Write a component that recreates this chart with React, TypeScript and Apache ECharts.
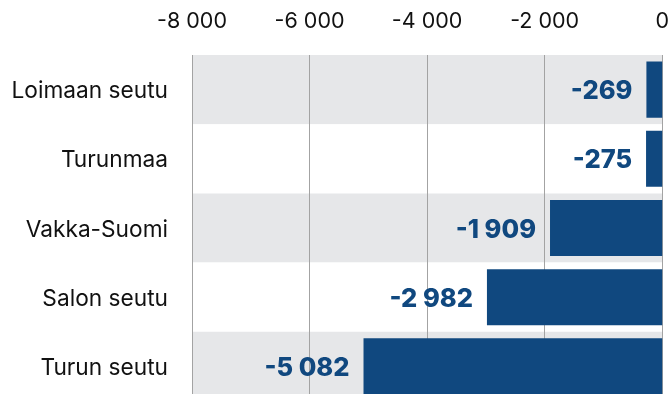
import React, { useEffect, useRef } from "react";
import * as echarts from "echarts";

const regions = ["Loimaan seutu", "Turunmaa", "Vakka-Suomi", "Salon seutu", "Turun seutu"];
const changes = [-269, -275, -1909, -2982, -5082];
const axisMin = -8000;
const axisMax = 0;
const axisStep = 2000;

const BLUE = "#10487f";
const FONT = "Inter, 'Noto Sans', sans-serif";

// Finnish-style grouping: "-5 082"
const fmt = (v: number) => String(v).replace(/\B(?=(\d{3})+(?!\d))/g, " ");

export default function App() {
  const ref = useRef<HTMLDivElement>(null);

  useEffect(() => {
    if (!ref.current) return;
    const chart = echarts.init(ref.current, undefined, { renderer: "svg" });
    chart.setOption({
      animation: false,
      grid: { left: 192, right: 9, top: 55, bottom: 0 },
      xAxis: {
        type: "value",
        position: "top",
        min: axisMin,
        max: axisMax,
        interval: axisStep,
        axisLine: { show: false },
        axisTick: { show: false },
        axisLabel: {
          color: "#111",
          fontFamily: FONT,
          fontSize: 21.5,
          margin: 24,
          formatter: (v: number) => fmt(v),
        },
        splitLine: { show: true, lineStyle: { color: "#a3a3a3", width: 1 } },
      },
      yAxis: {
        type: "category",
        data: regions,
        inverse: true,
        axisLine: { show: false },
        axisTick: { show: false },
        axisLabel: {
          color: "#111",
          fontFamily: FONT,
          fontSize: 22.7,
          margin: 24,
        },
        splitArea: { show: true, areaStyle: { color: ["#e6e7e9", "#ffffff"] } },
      },
      series: [
        {
          type: "bar",
          data: changes,
          barWidth: "81%",
          itemStyle: { color: BLUE },
          label: {
            show: true,
            position: "left",
            distance: 14,
            color: BLUE,
            fontFamily: FONT,
            fontWeight: 800,
            fontSize: 25.5,
            formatter: (p: any) => fmt(p.value),
          },
        },
      ],
    });
    return () => chart.dispose();
  }, []);

  return (
    <div
      ref={ref}
      style={{ position: "fixed", left: 0, top: 0, width: 672, height: 401 }}
    />
  );
}
